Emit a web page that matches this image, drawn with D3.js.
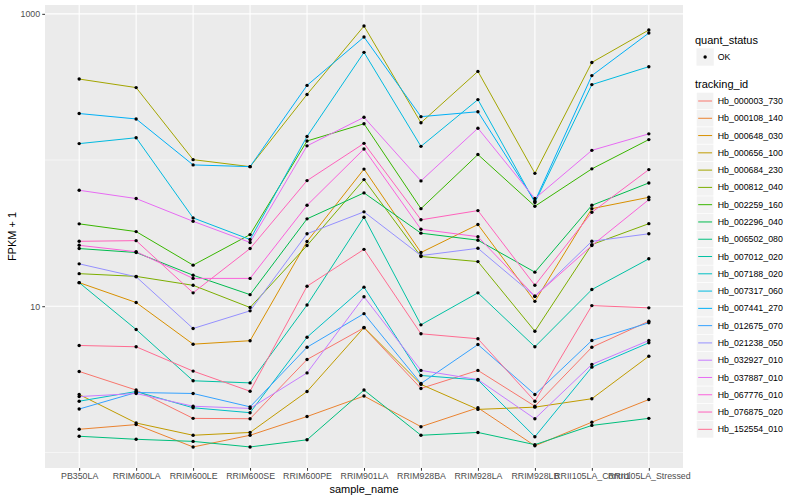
<!DOCTYPE html>
<html>
<head>
<meta charset="utf-8">
<script src="https://cdn.jsdelivr.net/npm/d3@7"></script>
<style>
  body { margin: 0; background: #fff; }
  text { font-family: "Liberation Sans", Arial, sans-serif; }
</style>
</head>
<body>
<div id="chart"></div>
<script>
// x categories
const samples = ["PB350LA", "RRIM600LA", "RRIM600LE", "RRIM600SE", "RRIM600PE", "RRIM901LA",
    "RRIM928BA", "RRIM928LA", "RRIM928LB", "RRII105LA_Control", "RRII105LA_Stressed"];

const trackingIds = ["Hb_000003_730", "Hb_000108_140", "Hb_000648_030", "Hb_000656_100",
    "Hb_000684_230", "Hb_000812_040", "Hb_002259_160", "Hb_002296_040", "Hb_006502_080",
    "Hb_007012_020", "Hb_007188_020", "Hb_007317_060", "Hb_007441_270", "Hb_012675_070",
    "Hb_021238_050", "Hb_032927_010", "Hb_037887_010", "Hb_067776_010", "Hb_076875_020",
    "Hb_152554_010"];

// FPKM + 1, one value per sample
const hb_000003_730 = [3.58, 2.67, 1.71, 1.70, 4.32, 7.12, 2.74, 3.64, 2.07, 5.24, 7.9];
const hb_000108_140 = [1.44, 1.55, 1.09, 1.31, 1.76, 2.43, 1.50, 2.02, 1.11, 1.61, 2.30];
const hb_000648_030 = [14.5, 10.6, 5.50, 5.81, 27.7, 86.7, 23.3, 36.2, 10.8, 46.5, 55.6];
const hb_000656_100 = [2.49, 1.59, 1.31, 1.37, 2.61, 7.15, 2.92, 1.97, 2.04, 2.33, 4.55];
const hb_000684_230 = [358, 313, 100.6, 90.1, 281, 825, 180, 404, 81.1, 465, 775];
const hb_000812_040 = [16.7, 16.0, 13.9, 9.8, 26.0, 73.5, 21.9, 20.2, 6.75, 26.4, 36.7];
const hb_002259_160 = [36.6, 32.4, 19.1, 30.9, 135, 177, 46.5, 109, 48.3, 87, 138];
const hb_002296_040 = [24.8, 23.3, 16.3, 12.0, 39.6, 59.6, 31.6, 28.3, 17.1, 49.0, 69.7];
const hb_006502_080 = [1.29, 1.23, 1.19, 1.09, 1.22, 2.67, 1.31, 1.37, 1.13, 1.53, 1.71];
const hb_007012_020 = [14.5, 6.93, 3.09, 2.99, 10.2, 40.6, 7.46, 12.35, 5.28, 13.0, 21.1];
const hb_007188_020 = [2.24, 2.61, 2.02, 1.87, 6.14, 13.5, 3.36, 3.13, 1.28, 3.83, 5.62];
const hb_007317_060 = [129.5, 142, 40.2, 28.6, 145, 545, 124, 259, 51.2, 328, 435];
const hb_007441_270 = [208, 191, 92.6, 90.1, 324, 694, 198, 214, 52.2, 378, 739];
const hb_012675_070 = [1.98, 2.57, 2.53, 2.05, 5.24, 8.9, 2.96, 5.47, 2.49, 5.83, 7.7];
const hb_021238_050 = [19.5, 15.9, 7.04, 9.3, 31.3, 44.2, 22.2, 24.9, 11.7, 27.8, 31.3];
const hb_032927_010 = [2.41, 2.53, 2.07, 2.00, 3.50, 11.6, 3.64, 3.15, 1.70, 4.00, 5.83];
const hb_037887_010 = [62.1, 54.5, 38.1, 27.3, 125, 196, 72, 165, 54.5, 116.5, 151];
const hb_067776_010 = [26.1, 23.6, 15.5, 15.5, 49.0, 119, 33.6, 29.9, 11.7, 26.0, 53.6];
const hb_076875_020 = [27.8, 28.1, 12.35, 24.8, 72.3, 130, 39.0, 45.1, 13.9, 43.9, 86];
const hb_152554_010 = [5.39, 5.28, 3.60, 2.62, 13.7, 24.5, 6.48, 5.99, 2.24, 10.1, 9.75];

const seriesValues = [hb_000003_730, hb_000108_140, hb_000648_030, hb_000656_100,
    hb_000684_230, hb_000812_040, hb_002259_160, hb_002296_040, hb_006502_080,
    hb_007012_020, hb_007188_020, hb_007317_060, hb_007441_270, hb_012675_070,
    hb_021238_050, hb_032927_010, hb_037887_010, hb_067776_010, hb_076875_020,
    hb_152554_010];

const yMajor = [10, 1000];
const yMinor = [1, 100];

// ggplot default hue palette for 20 groups
const palette = ["#F8766D", "#EA8331", "#D89000", "#C09B00", "#A3A500", "#7CAE00", "#39B600",
    "#00BB4E", "#00BF7D", "#00C1A3", "#00BFC4", "#00BAE0", "#00B0F6", "#35A2FF", "#9590FF",
    "#C77CFF", "#E76BF3", "#FA62DB", "#FF62BC", "#FF6C91"];

const width = 800;
const height = 500;
const panel = { left: 45, right: 683, top: 5, bottom: 468 };

const series = trackingIds.map((id, i) => ({ id, color: palette[i], values: seriesValues[i] }));

const svg = d3.select("#chart").append("svg")
    .attr("width", width)
    .attr("height", height);

const x = d3.scalePoint()
    .domain(samples)
    .range([panel.left, panel.right])
    .padding(0.6);

// log scale, expanded by 5% like ggplot
const [lo, hi] = d3.extent(seriesValues.flat()).map(Math.log10);
const pad = (hi - lo) * 0.05;
const y = d3.scaleLog()
    .domain([10 ** (lo - pad), 10 ** (hi + pad)])
    .range([panel.bottom, panel.top]);

// Panel background and grid.
svg.append("rect")
    .attr("x", panel.left)
    .attr("y", panel.top)
    .attr("width", panel.right - panel.left)
    .attr("height", panel.bottom - panel.top)
    .attr("fill", "#EBEBEB");

const grid = svg.append("g").attr("stroke", "#fff");
grid.selectAll("line.minor")
    .data(yMinor)
    .join("line")
        .attr("class", "minor")
        .attr("x1", panel.left).attr("x2", panel.right)
        .attr("y1", d => y(d)).attr("y2", d => y(d))
        .attr("stroke-width", 0.55);
grid.selectAll("line.major")
    .data(yMajor)
    .join("line")
        .attr("class", "major")
        .attr("x1", panel.left).attr("x2", panel.right)
        .attr("y1", d => y(d)).attr("y2", d => y(d))
        .attr("stroke-width", 1.1);
grid.selectAll("line.vert")
    .data(samples)
    .join("line")
        .attr("class", "vert")
        .attr("x1", d => x(d)).attr("x2", d => x(d))
        .attr("y1", panel.top).attr("y2", panel.bottom)
        .attr("stroke-width", 1.1);

// Lines.
const line = d3.line()
    .x((d, i) => x(samples[i]))
    .y(d => y(d));

svg.append("g")
    .attr("fill", "none")
    .attr("stroke-width", 1)
    .selectAll("path")
    .data(series)
    .join("path")
        .attr("stroke", d => d.color)
        .attr("d", d => line(d.values));

// Points.
svg.append("g")
    .selectAll("circle")
    .data(series.flatMap(s => s.values.map((v, i) => ({ sample: samples[i], v }))))
    .join("circle")
        .attr("cx", d => x(d.sample))
        .attr("cy", d => y(d.v))
        .attr("r", 1.7)
        .attr("fill", "#000");

// Axes.
function styleAxis(g) {
    g.select(".domain").remove();
    g.selectAll(".tick line").attr("stroke", "#333333").attr("stroke-width", 1);
    g.selectAll(".tick text")
        .attr("fill", "#4D4D4D")
        .style("font-size", "8.8px");
}

svg.append("g")
    .attr("transform", `translate(${panel.left},0)`)
    .call(d3.axisLeft(y).tickValues(yMajor).tickFormat(d3.format("d")).tickSize(2.75).tickPadding(2.2))
    .call(styleAxis);

svg.append("g")
    .attr("transform", `translate(0,${panel.bottom})`)
    .call(d3.axisBottom(x).tickSize(2.75).tickPadding(2.2))
    .call(styleAxis);

svg.append("text")
    .attr("transform", `translate(16,${(panel.top + panel.bottom) / 2}) rotate(-90)`)
    .attr("text-anchor", "middle")
    .style("font-size", "11px")
    .text("FPKM + 1");

svg.append("text")
    .attr("x", (panel.left + panel.right) / 2)
    .attr("y", 493)
    .attr("text-anchor", "middle")
    .style("font-size", "11px")
    .text("sample_name");

// Legend.
const legend = svg.append("g").attr("transform", "translate(695,0)");
const keySize = 17.28;

legend.append("text")
    .attr("x", 0).attr("y", 44)
    .style("font-size", "11px")
    .text("quant_status");

legend.append("rect")
    .attr("x", 1.5).attr("y", 57 - keySize / 2)
    .attr("width", keySize).attr("height", keySize)
    .attr("fill", "#F2F2F2");
legend.append("circle")
    .attr("cx", 1.5 + keySize / 2).attr("cy", 57)
    .attr("r", 1.7)
    .attr("fill", "#000");
legend.append("text")
    .attr("x", 1.5 + keySize + 4).attr("y", 57)
    .attr("dy", "0.35em")
    .style("font-size", "8.8px")
    .text("OK");

legend.append("text")
    .attr("x", 0).attr("y", 88)
    .style("font-size", "11px")
    .text("tracking_id");

const item = legend.selectAll("g.item")
    .data(series)
    .join("g")
        .attr("class", "item")
        .attr("transform", (d, i) => `translate(1.5,${101 + i * keySize})`);

item.append("rect")
    .attr("y", -keySize / 2)
    .attr("width", keySize).attr("height", keySize)
    .attr("fill", "#F2F2F2")
    .attr("stroke", "#fff")
    .attr("stroke-width", 0.6);
item.append("line")
    .attr("x1", 1.7).attr("x2", keySize - 1.7)
    .attr("stroke", d => d.color)
    .attr("stroke-width", 1);
item.append("text")
    .attr("x", keySize + 4)
    .attr("dy", "0.35em")
    .style("font-size", "8.8px")
    .text(d => d.id);
</script>
</body>
</html>
